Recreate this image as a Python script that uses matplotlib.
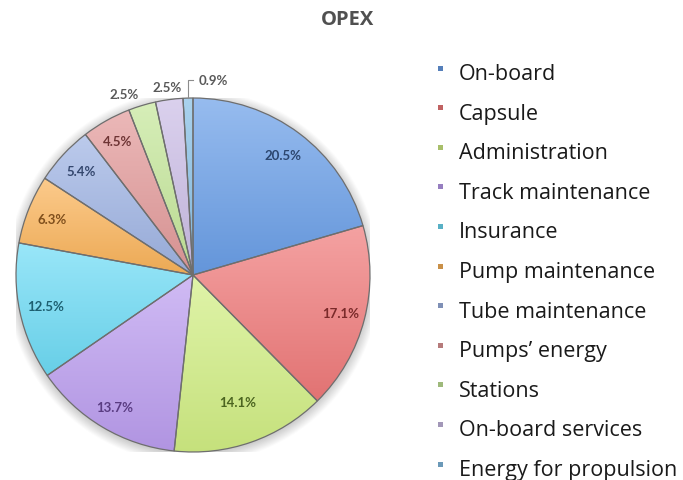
import numpy as np
import matplotlib
matplotlib.use("Agg")
import matplotlib.pyplot as plt
from matplotlib.colors import to_rgb
from matplotlib.patches import Rectangle

plt.rcParams['font.family'] = ['Open Sans', 'DejaVu Sans']

# ---- data -------------------------------------------------------------
title = "OPEX"
categories = ["On-board", "Capsule", "Administration", "Track maintenance",
              "Insurance", "Pump maintenance", "Tube maintenance",
              "Pumps\u2019 energy", "Stations", "On-board services",
              "Energy for propulsion"]
shares = [20.5, 17.1, 14.1, 13.7, 12.5, 6.3, 5.4, 4.5, 2.5, 2.5, 0.9]

# ---- style ------------------------------------------------------------
base_colors = ["#6a9fe8", "#f07a7a", "#d2ef84", "#bc9ef0", "#6edcf6",
               "#fbb45a", "#9fb4e4", "#e39a9a", "#c5e79a", "#cbbde6",
               "#86bfe6"]
label_colors = ["#2c466e", "#7a2a2a", "#4b6420", "#5a3c82", "#1d5f70",
                "#7f4f1c", "#34476e", "#6e3434", "#595959", "#595959",
                "#595959"]
# label placement: radius (in pie radii) and alignment; None -> leader line
label_r = [0.85, 0.86, 0.76, 0.87, 0.85, 0.86, 0.86, 0.87, 1.07, 1.07, None]
label_ha = ["center"] * 8 + ["right", "center", "left"]


def mix(c, other, t):
    a = np.array(to_rgb(c))
    b = np.array(to_rgb(other))
    return a * (1 - t) + b * t


W, H = 683, 481
fig = plt.figure(figsize=(W / 100, H / 100), dpi=100)
fig.patch.set_facecolor("white")

# pie axes: centre (193, 276) px from top-left, radius 177 px
cx, cy, R = 193, 276, 177
ax = fig.add_axes([(cx - R) / W, (H - cy - R) / H, 2 * R / W, 2 * R / H])

wedges, _ = ax.pie(shares, startangle=90, counterclock=False,
                   colors=base_colors, radius=1.0,
                   wedgeprops=dict(edgecolor="#6e6e6e", linewidth=0.9))

# soft outer shadow of the pie
yy, xx = np.mgrid[-1.08:1.08:400j, -1.08:1.08:400j]
rr = np.hypot(xx, yy + 0.01)
shadow = np.clip((rr - 1.0) / 0.06, 0, 1)
alpha = (1 - shadow) * 0.35
sh = np.zeros((400, 400, 4))
sh[..., :3] = 0.45
sh[..., 3] = alpha * (rr > 0.98)
ax.imshow(sh, extent=(-1.08, 1.08, -1.08, 1.08), origin="lower",
          zorder=0, interpolation="bilinear")

# vertical light-to-dark gradient fill clipped to each wedge
for w, c in zip(wedges, base_colors):
    x0, y0, x1, y1 = w.get_path().get_extents().extents
    t = np.linspace(0, 1, 256)[:, None]
    top = mix(c, "white", 0.30)
    bot = mix(c, "black", 0.06)
    arr = (top[None, None, :] * (1 - t[..., None]) + bot[None, None, :] * t[..., None])
    im = ax.imshow(arr, extent=(x0, x1, y0, y1), origin="upper",
                   aspect="auto", zorder=1, interpolation="bilinear")
    im.set_clip_path(w)
    w.set_facecolor("none")
    w.set_zorder(2)

# value labels
lab_font = dict(fontsize=9.5, fontweight="bold", family=["Lato", "DejaVu Sans"])
for i, (w, v) in enumerate(zip(wedges, shares)):
    mid = np.deg2rad((w.theta1 + w.theta2) / 2)
    txt = f"{v:.1f}%"
    if label_r[i] is None:
        # leader line from the wedge rim up and to the right
        xm = np.cos(mid)
        ax.plot([xm, xm, 0.0], [np.sin(mid), 1.10, 1.10], color="#8c8c8c",
                lw=0.8, zorder=3, clip_on=False)
        ax.text(0.03, 1.10, txt, ha="left", va="center",
                color=label_colors[i], zorder=4, **lab_font)
    else:
        r = label_r[i]
        ax.text(r * np.cos(mid), r * np.sin(mid), txt, ha=label_ha[i],
                va="center", color=label_colors[i], zorder=4, **lab_font)

ax.set_xlim(-1, 1)
ax.set_ylim(-1, 1)
ax.set_aspect("equal")
ax.axis("off")

# title
fig.text(348 / W, 1 - 20 / H, title, ha="center", va="center",
         fontsize=14.5, fontweight="bold", color="#505050")

# legend: small square swatches with labels
base0, step = 80, 39.6
for i, (name, c) in enumerate(zip(categories, base_colors)):
    yb = base0 + i * step
    sw = mix(c, "black", 0.2)
    fig.patches.append(Rectangle(((437.5) / W, 1 - (yb - 8.5) / H), 5 / W, 5 / H,
                                 transform=fig.transFigure, facecolor=sw,
                                 edgecolor="none"))
    fig.text(459 / W, 1 - yb / H, name, ha="left", va="baseline",
             fontsize=15.5, color="#1a1a1a")

fig.savefig("out.png", dpi=100, facecolor="white")
